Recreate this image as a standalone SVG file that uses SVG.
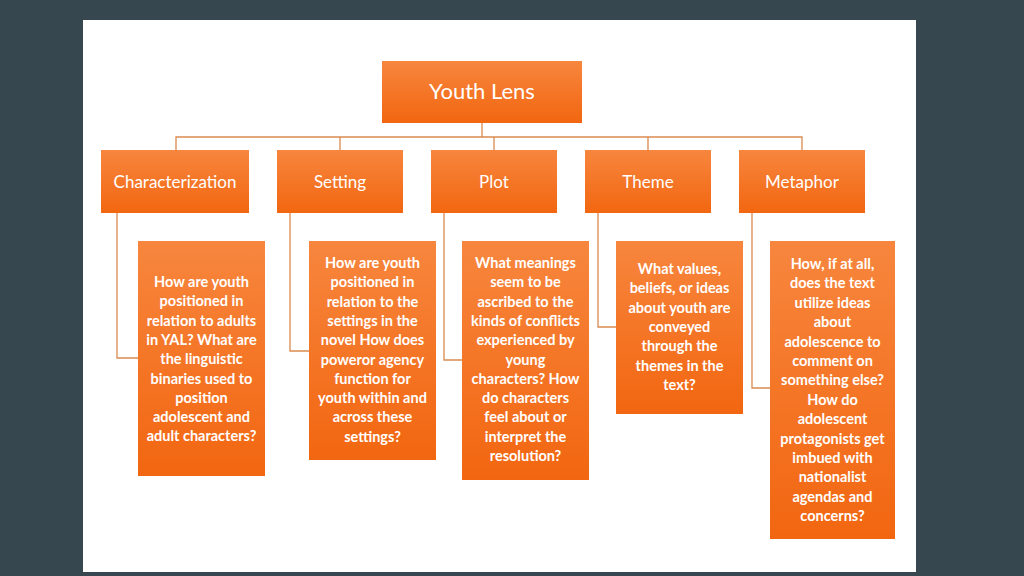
<svg xmlns="http://www.w3.org/2000/svg" width="1024" height="576" viewBox="0 0 1024 576">
<defs>
<linearGradient id="g" x1="0" y1="0" x2="0" y2="1"><stop offset="0" stop-color="#F7863E"/><stop offset="1" stop-color="#F26610"/></linearGradient>
<style>
.b{fill:url(#g)}
.t{font-family:Lato,"Open Sans",sans-serif;fill:#fff;text-anchor:middle;font-size:17px}
.d{font-family:Lato,"Open Sans",sans-serif;fill:#fff;text-anchor:middle;font-size:14.5px;font-weight:bold}
.c{fill:none;stroke:#D98A50;stroke-width:1.3}
</style>
</defs>
<rect width="1024" height="576" fill="#37474F"/>
<rect x="83" y="20" width="833" height="552" fill="#fff"/>
<g id="connectors">
<path class="c" d="M482 123V137M176 150V137H802V150M340 137V150M494 137V150M648 137V150"/>
<path class="c" d="M117 213V358H138M290 213V351H309M444 213V360H462M598 213V327H616M752 213V388H770"/>
</g>
<g id="root"><rect class="b" x="382" y="61" width="200" height="62"/><text class="t" x="482" y="99" style="font-size:22px">Youth Lens</text></g>
<g id="characterization"><rect class="b" x="101" y="150" width="148" height="63"/><text class="t" x="175" y="188">Characterization</text></g>
<g id="setting"><rect class="b" x="277" y="150" width="126" height="63"/><text class="t" x="340" y="188">Setting</text></g>
<g id="plot"><rect class="b" x="431" y="150" width="126" height="63"/><text class="t" x="494" y="188">Plot</text></g>
<g id="theme"><rect class="b" x="585" y="150" width="126" height="63"/><text class="t" x="648" y="188">Theme</text></g>
<g id="metaphor"><rect class="b" x="739" y="150" width="126" height="63"/><text class="t" x="802" y="188">Metaphor</text></g>
<g id="d1"><rect class="b" x="138" y="241" width="127" height="235"/>
<text class="d" x="201.5" y="287"><tspan x="201.5">How are youth</tspan><tspan x="201.5" dy="19.3">positioned  in</tspan><tspan x="201.5" dy="19.3">relation to adults</tspan><tspan x="201.5" dy="19.3">in YAL? What are</tspan><tspan x="201.5" dy="19.3">the linguistic</tspan><tspan x="201.5" dy="19.3">binaries used to</tspan><tspan x="201.5" dy="19.3">position</tspan><tspan x="201.5" dy="19.3">adolescent and</tspan><tspan x="201.5" dy="19.3">adult characters?</tspan></text></g>
<g id="d2"><rect class="b" x="309" y="241" width="127" height="219"/>
<text class="d" x="372.5" y="268"><tspan x="372.5">How are youth</tspan><tspan x="372.5" dy="19.3">positioned  in</tspan><tspan x="372.5" dy="19.3">relation to the</tspan><tspan x="372.5" dy="19.3">settings in the</tspan><tspan x="372.5" dy="19.3">novel How does</tspan><tspan x="372.5" dy="19.3">poweror agency</tspan><tspan x="372.5" dy="19.3">function for</tspan><tspan x="372.5" dy="19.3">youth within and</tspan><tspan x="372.5" dy="19.3">across these</tspan><tspan x="372.5" dy="19.3">settings?</tspan></text></g>
<g id="d3"><rect class="b" x="462" y="241" width="127" height="239"/>
<text class="d" x="525.5" y="268"><tspan x="525.5">What meanings</tspan><tspan x="525.5" dy="19.3">seem to be</tspan><tspan x="525.5" dy="19.3">ascribed to the</tspan><tspan x="525.5" dy="19.3">kinds of conflicts</tspan><tspan x="525.5" dy="19.3">experienced by</tspan><tspan x="525.5" dy="19.3">young</tspan><tspan x="525.5" dy="19.3">characters? How</tspan><tspan x="525.5" dy="19.3">do characters</tspan><tspan x="525.5" dy="19.3">feel about or</tspan><tspan x="525.5" dy="19.3">interpret the</tspan><tspan x="525.5" dy="19.3">resolution?</tspan></text></g>
<g id="d4"><rect class="b" x="616" y="241" width="127" height="173"/>
<text class="d" x="679.5" y="274"><tspan x="679.5">What values,</tspan><tspan x="679.5" dy="19.3">beliefs, or ideas</tspan><tspan x="679.5" dy="19.3">about youth are</tspan><tspan x="679.5" dy="19.3">conveyed</tspan><tspan x="679.5" dy="19.3">through the</tspan><tspan x="679.5" dy="19.3">themes in the</tspan><tspan x="679.5" dy="19.3">text?</tspan></text></g>
<g id="d5"><rect class="b" x="770" y="241" width="125" height="298"/>
<text class="d" x="832.5" y="269"><tspan x="832.5">How, if at all,</tspan><tspan x="832.5" dy="19.4">does the text</tspan><tspan x="832.5" dy="19.4">utilize ideas</tspan><tspan x="832.5" dy="19.4">about</tspan><tspan x="832.5" dy="19.4">adolescence to</tspan><tspan x="832.5" dy="19.4">comment on</tspan><tspan x="832.5" dy="19.4">something else?</tspan><tspan x="832.5" dy="19.4">How do</tspan><tspan x="832.5" dy="19.4">adolescent</tspan><tspan x="832.5" dy="19.4">protagonists get</tspan><tspan x="832.5" dy="19.4">imbued with</tspan><tspan x="832.5" dy="19.4">nationalist</tspan><tspan x="832.5" dy="19.4">agendas and</tspan><tspan x="832.5" dy="19.4">concerns?</tspan></text></g>
</svg>
